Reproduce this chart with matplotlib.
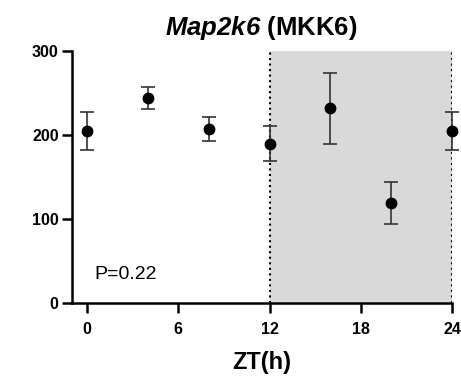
import matplotlib
matplotlib.use('Agg')
import matplotlib.pyplot as plt

# ZT0 is repeated at ZT24
zt = [0, 4, 8, 12, 16, 20, 24]
mean = [205, 244, 207, 190, 232, 119, 205]
err_lo = [23, 13, 14, 21, 43, 25, 23]
err_hi = [22, 13, 14, 21, 42, 25, 22]
xticks = [0, 6, 12, 18, 24]
yticks = [0, 100, 200, 300]

plt.rcParams['font.family'] = 'Liberation Sans'
plt.rcParams['mathtext.fontset'] = 'custom'
plt.rcParams['mathtext.rm'] = 'Liberation Sans:italic:bold'
plt.rcParams['mathtext.it'] = 'Liberation Sans:italic:bold'

fig = plt.figure(figsize=(4.61, 3.76), dpi=100)
ax = fig.add_axes([0.156, 0.194, 0.8245, 0.67])

ax.axvspan(12, 24, ymin=0, ymax=1, color='#d9d9d9', zorder=0, lw=0)
ax.axvline(12, color='black', ls=':', lw=1.5, zorder=1)
ax.axvline(24, color='black', ls=':', lw=1.5, zorder=1)

ax.errorbar(zt, mean, yerr=[err_lo, err_hi], fmt='o', color='black', ms=7.5,
            ecolor='#333333', elinewidth=1.2, capsize=5, capthick=1.2, zorder=3,
            clip_on=False)

ax.set_xlim(-1, 24)
ax.set_ylim(0, 300)
ax.set_xticks(xticks)
ax.set_yticks(yticks)
for lab in ax.get_xticklabels() + ax.get_yticklabels():
    lab.set_fontweight('bold')
    lab.set_fontsize(11.5)

ax.spines['top'].set_visible(False)
ax.spines['right'].set_visible(False)
ax.spines['left'].set_linewidth(1.8)
ax.spines['bottom'].set_linewidth(1.8)
ax.tick_params(width=1.8, length=7.5)
ax.tick_params(axis='y', pad=2)
ax.tick_params(axis='x', pad=6)

fig.text(0.568, 0.018, 'ZT(h)', fontsize=17, fontweight='bold', ha='center', va='baseline')
fig.text(0.567, 0.907, r'$\mathrm{Map2k6}$ (MKK6)', fontsize=18.5, fontweight='bold',
         ha='center', va='baseline')
ax.text(0.46, 28.6, 'P=0.22', fontsize=14)

fig.savefig('out.png', dpi=100)
